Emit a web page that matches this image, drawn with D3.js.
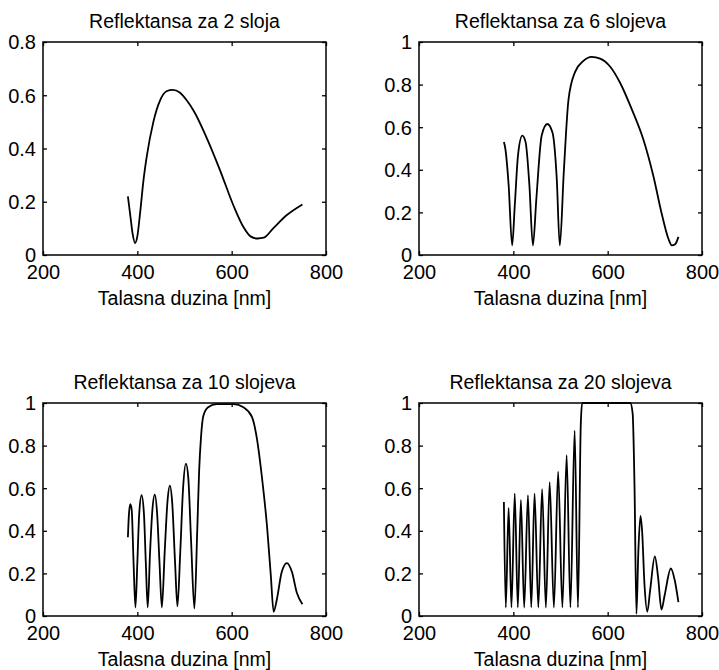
<!DOCTYPE html>
<html>
<head>
<meta charset="utf-8">
<script src="https://cdn.jsdelivr.net/npm/d3@7"></script>
<style>
  body { margin: 0; background: #fff; }
  text { font-family: Arial, "Liberation Sans", sans-serif; fill: #000; }
</style>
</head>
<body>
<svg id="chart" width="719" height="670"></svg>
<script>
// titles of the four panels
const titles = ['Reflektansa za 2 sloja', 'Reflektansa za 6 slojeva',
                'Reflektansa za 10 slojeva', 'Reflektansa za 20 slojeva'];
const xLabel = 'Talasna duzina [nm]';

// ticks
const xTicks = [200, 400, 600, 800];
const yTicksLow = [0, 0.2, 0.4, 0.6, 0.8];
const yTicksHigh = [0, 0.2, 0.4, 0.6, 0.8, 1];

// 2 layers
const wl2 = [380, 385, 390, 395, 400, 406, 413, 420, 434, 448, 462, 475, 490, 505, 520, 547, 575, 604, 625, 640, 655, 668, 688, 717, 750];
const r2 = [0.22, 0.15, 0.08, 0.045, 0.07, 0.16, 0.28, 0.37, 0.50, 0.58, 0.615, 0.62, 0.61, 0.58, 0.54, 0.44, 0.32, 0.185, 0.105, 0.07, 0.062, 0.065, 0.10, 0.15, 0.19];

// 6 layers
const wl6 = [380, 383, 390, 397.5, 403, 410, 419, 426, 434, 441.5, 449, 460, 472, 483, 492, 498.5, 507, 517, 531, 548, 566, 584, 605, 626, 651, 676, 697, 715, 729, 736, 743, 750];
const r6 = [0.53, 0.50, 0.33, 0.045, 0.23, 0.47, 0.56, 0.53, 0.33, 0.045, 0.27, 0.56, 0.615, 0.575, 0.36, 0.045, 0.39, 0.73, 0.86, 0.91, 0.93, 0.922, 0.885, 0.81, 0.685, 0.54, 0.37, 0.19, 0.075, 0.045, 0.05, 0.085];

// 10 layers
const wl10 = [380, 382, 385, 388, 392, 396, 400, 404, 409, 414, 418, 422, 427, 432, 437, 442, 447, 452, 458, 464, 469, 474, 480, 485, 491, 497, 503, 508, 514, 521, 527, 531, 535, 540, 550, 568, 604, 625, 643, 653, 664, 675, 683, 689, 696, 706, 717, 728, 738, 750];
const r10 = [0.37, 0.47, 0.525, 0.50, 0.25, 0.04, 0.25, 0.48, 0.567, 0.48, 0.25, 0.04, 0.30, 0.50, 0.57, 0.48, 0.25, 0.04, 0.30, 0.54, 0.612, 0.53, 0.25, 0.045, 0.30, 0.60, 0.715, 0.65, 0.35, 0.035, 0.40, 0.68, 0.84, 0.94, 0.98, 0.995, 0.995, 0.98, 0.935, 0.84, 0.655, 0.42, 0.19, 0.02, 0.08, 0.205, 0.248, 0.205, 0.11, 0.055];

// 20 layers
const wl20 = [380, 384, 390, 396, 403, 409.5, 416, 423, 431, 438, 445, 453, 461, 469, 477, 486, 495, 504, 513, 521, 530, 537, 543, 546, 560, 600, 648, 653, 657, 661, 665, 669.5, 673, 678, 684, 690, 700, 707, 714, 721, 734, 742, 750];
const r20 = [0.535, 0.04, 0.508, 0.04, 0.575, 0.04, 0.545, 0.04, 0.567, 0.04, 0.575, 0.04, 0.595, 0.04, 0.628, 0.04, 0.678, 0.04, 0.755, 0.04, 0.87, 0.04, 0.9, 1.0, 1.0, 1.0, 1.0, 0.95, 0.6, 0.01, 0.3, 0.47, 0.4, 0.15, 0.02, 0.12, 0.28, 0.18, 0.03, 0.10, 0.223, 0.17, 0.065];

const panels = [
    { title: titles[0], wl: wl2, r: r2, yTicks: yTicksLow },
    { title: titles[1], wl: wl6, r: r6, yTicks: yTicksHigh },
    { title: titles[2], wl: wl10, r: r10, yTicks: yTicksHigh },
    { title: titles[3], wl: wl20, r: r20, yTicks: yTicksHigh }
];

const svg = d3.select('#chart');
const lefts = [43, 419];
const tops = [42, 403];
const w = 283, h = 213;
const fmt = d => String(+d.toFixed(1));

panels.forEach((p, i) => {
    const g = svg.append('g')
        .attr('transform', `translate(${lefts[i % 2]},${tops[Math.floor(i / 2)]})`);

    const x = d3.scaleLinear().domain([200, 800]).range([0, w]);
    const y = d3.scaleLinear().domain([0, d3.max(p.yTicks)]).range([h, 0]);

    // curve
    const pts = p.wl.map((v, k) => [v, p.r[k]]);
    g.append('path')
        .datum(pts)
        .attr('fill', 'none')
        .attr('stroke', '#000')
        .attr('stroke-width', 1.8)
        .attr('stroke-linejoin', 'round')
        .attr('d', d3.line().x(d => x(d[0])).y(d => y(d[1])).curve(d3.curveMonotoneX));

    // inward ticks on all four sides
    const noDomain = sel => sel.select('.domain').remove();
    g.append('g').attr('transform', `translate(0,${h})`)
        .call(d3.axisBottom(x).tickValues(xTicks).tickSize(-4).tickFormat('')).call(noDomain);
    g.append('g')
        .call(d3.axisTop(x).tickValues(xTicks).tickSize(-4).tickFormat('')).call(noDomain);
    g.append('g')
        .call(d3.axisLeft(y).tickValues(p.yTicks).tickSize(-4).tickFormat('')).call(noDomain);
    g.append('g').attr('transform', `translate(${w},0)`)
        .call(d3.axisRight(y).tickValues(p.yTicks).tickSize(-4).tickFormat('')).call(noDomain);
    g.selectAll('.tick line').attr('stroke', '#000').attr('stroke-width', 1.3);

    // tick labels
    const xl = g.append('g').attr('transform', `translate(0,${h})`)
        .call(d3.axisBottom(x).tickValues(xTicks).tickSize(0).tickPadding(0)).call(noDomain);
    xl.selectAll('text').attr('dy', null).attr('y', 24);
    const yl = g.append('g')
        .call(d3.axisLeft(y).tickValues(p.yTicks).tickSize(0).tickPadding(7).tickFormat(fmt)).call(noDomain);
    yl.selectAll('text').attr('dy', '0.34em');
    [xl, yl].forEach(a => a.attr('font-size', 20).attr('font-family', 'Arial, "Liberation Sans", sans-serif'));
    g.selectAll('.tick text').attr('fill', '#000');

    // box
    g.append('rect')
        .attr('width', w).attr('height', h)
        .attr('fill', 'none').attr('stroke', '#000').attr('stroke-width', 1.5);

    // title and x label
    g.append('text')
        .attr('x', w / 2).attr('y', -14)
        .attr('text-anchor', 'middle')
        .attr('font-size', 19.5)
        .text(p.title);
    g.append('text')
        .attr('x', w / 2).attr('y', h + 50)
        .attr('text-anchor', 'middle')
        .attr('font-size', 19.5)
        .text(xLabel);
});
</script>
</body>
</html>
